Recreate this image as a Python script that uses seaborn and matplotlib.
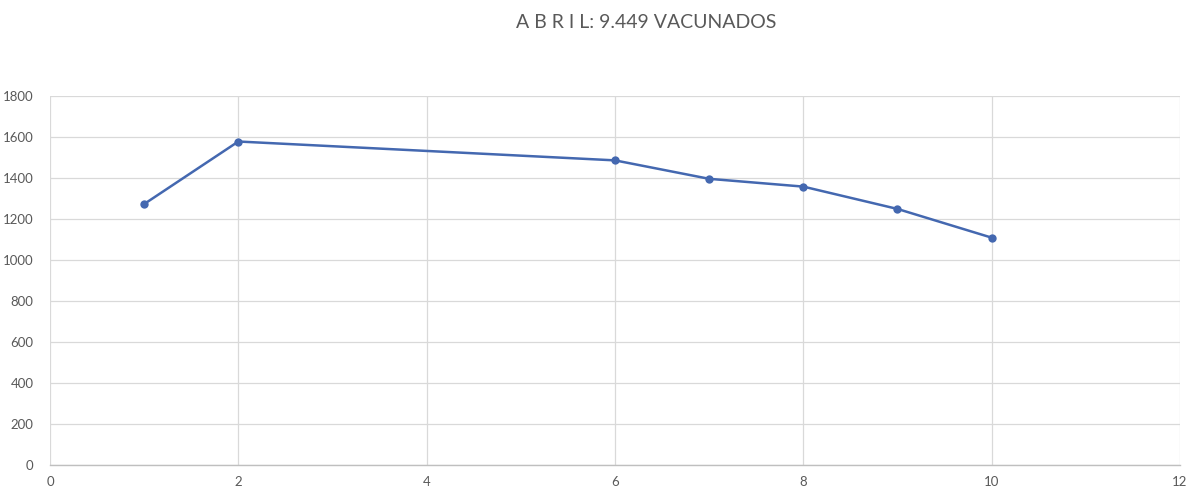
import matplotlib
matplotlib.use("Agg")
import matplotlib.pyplot as plt
import seaborn as sns
import pandas as pd

# valores (abril)
dias = [1, 2, 6, 7, 8, 9, 10]
vacunados = [1273, 1578, 1486, 1396, 1358, 1249, 1109]

titulo = "A B R I L: 9.449 VACUNADOS"
x_ticks = [0, 2, 4, 6, 8, 10, 12]
y_ticks = [0, 200, 400, 600, 800, 1000, 1200, 1400, 1600, 1800]

sns.set_style("white")
plt.rcParams['font.family'] = ['Lato', 'DejaVu Sans']

df = pd.DataFrame({'dia': dias, 'vacunados': vacunados})

fig = plt.figure(figsize=(11.96, 4.88), dpi=100)
ax = fig.add_axes([50 / 1196, 23 / 488, 1130 / 1196, 369 / 488])

sns.lineplot(data=df, x='dia', y='vacunados', ax=ax, color='#4468B0',
             marker='o', markersize=6, markeredgewidth=0, linewidth=1.8)

ax.set_xlim(0, 12)
ax.set_ylim(0, 1800)
ax.set_xticks(x_ticks)
ax.set_yticks(y_ticks)
ax.grid(True, color='#d9d9d9', linewidth=0.9)
ax.set_axisbelow(True)
for s in ['top', 'right', 'left']:
    ax.spines[s].set_visible(False)
ax.spines['bottom'].set_color('#bfbfbf')
ax.spines['bottom'].set_linewidth(1.0)
ax.tick_params(axis='both', length=0, labelsize=9.5, labelcolor='#595959')
ax.tick_params(axis='x', pad=8)
ax.tick_params(axis='y', pad=12)
ax.set_xlabel('')
ax.set_ylabel('')

fig.text(646 / 1196, 1 - 22 / 488, titulo, ha='center', va='center',
         fontsize=14, color='#595959')

fig.savefig('out.png', dpi=100)
